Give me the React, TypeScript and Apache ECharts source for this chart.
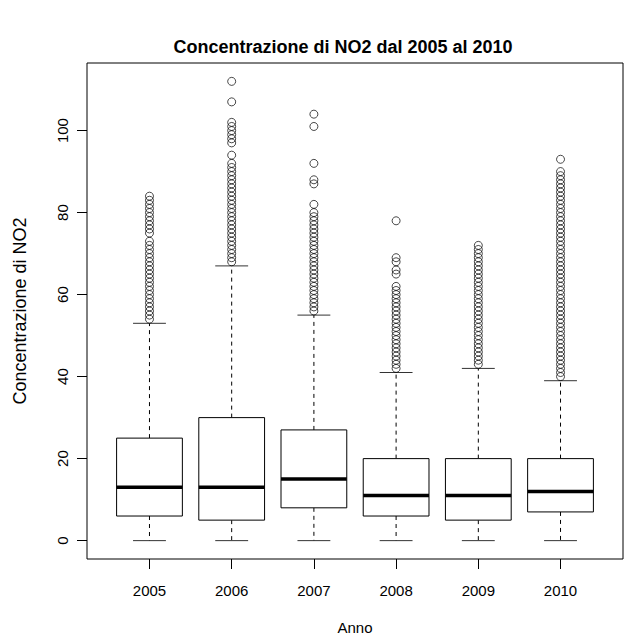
import React, { useEffect, useRef } from "react";
import * as echarts from "echarts";

const years = ["2005", "2006", "2007", "2008", "2009", "2010"];
const positions = [1, 2, 3, 4, 5, 6];
const mins = [0, 0, 0, 0, 0, 0];
const q1s = [6, 5, 8, 6, 5, 7];
const medians = [13, 13, 15, 11, 11, 12];
const q3s = [25, 30, 27, 20, 20, 20];
const maxs = [53, 67, 55, 41, 42, 39];

const outliers2005 = [54, 55, 56, 57, 58, 59, 60, 61, 62, 63, 64, 65, 66, 67, 68, 69, 70, 71, 72, 73, 75, 76, 77, 78, 79, 80, 81, 82, 83, 84];
const outliers2006 = [68, 69, 70, 71, 72, 73, 74, 75, 76, 77, 78, 79, 80, 81, 82, 83, 84, 85, 86, 87, 88, 89, 90, 91, 92, 94, 97, 98, 99, 100, 101, 102, 107, 112];
const outliers2007 = [56, 57, 58, 59, 60, 61, 62, 63, 64, 65, 66, 67, 68, 69, 70, 71, 72, 73, 74, 75, 76, 77, 78, 79, 80, 82, 87, 88, 92, 101, 104];
const outliers2008 = [42, 43, 44, 45, 46, 47, 48, 49, 50, 51, 52, 53, 54, 55, 56, 57, 58, 59, 60, 61, 62, 65, 66, 68, 69, 78];
const outliers2009 = [43, 44, 45, 46, 47, 48, 49, 50, 51, 52, 53, 54, 55, 56, 57, 58, 59, 60, 61, 62, 63, 64, 65, 66, 67, 68, 69, 70, 71, 72];
const outliers2010 = [40, 41, 42, 43, 44, 45, 46, 47, 48, 49, 50, 51, 52, 53, 54, 55, 56, 57, 58, 59, 60, 61, 62, 63, 64, 65, 66, 67, 68, 69, 70, 71, 72, 73, 74, 75, 76, 77, 78, 79, 80, 81, 82, 83, 84, 85, 86, 87, 88, 89, 90, 93];
const outlierLists = [outliers2005, outliers2006, outliers2007, outliers2008, outliers2009, outliers2010];

const yTicks = [0, 20, 40, 60, 80, 100];

const FONT = "'Liberation Sans', Arial, Helvetica, sans-serif";

export default function App() {
  const ref = useRef<HTMLDivElement>(null);
  useEffect(() => {
    if (!ref.current) return;
    const chart = echarts.init(ref.current, undefined, { renderer: "svg" });

    const boxData = positions.map((p, i) => [p, mins[i], q1s[i], medians[i], q3s[i], maxs[i]]);
    const outlierData: number[][] = [];
    outlierLists.forEach((list, i) => {
      list.forEach((v) => outlierData.push([positions[i], v]));
    });

    const option: any = {
      animation: false,
      backgroundColor: "#ffffff",
      textStyle: { fontFamily: FONT },
      grid: {
        left: 87,
        right: 7,
        top: 63,
        bottom: 76,
        containLabel: false,
        outerBoundsMode: "none",
        show: true,
        borderColor: "#000",
        borderWidth: 1,
        backgroundColor: "transparent",
      },
      graphic: [
        {
          type: "text",
          x: 343,
          y: 47,
          style: {
            text: "Concentrazione di NO2 dal 2005 al 2010",
            font: `bold 18px ${FONT}`,
            fill: "#000",
            textAlign: "center",
            textVerticalAlign: "middle",
          },
        },
      ],
      xAxis: {
        type: "value",
        position: "bottom",
        min: 0.24,
        max: 6.76,
        splitLine: { show: false },
        axisLine: { show: false, onZero: false },
        axisTick: {
          show: true,
          length: 10,
          customValues: positions,
          lineStyle: { color: "#000", width: 1 },
        },
        axisLabel: {
          customValues: positions,
          formatter: (v: number) => years[Math.round(v) - 1] ?? "",
          color: "#000",
          fontSize: 15,
          fontFamily: FONT,
          margin: 24,
        },
        name: "Anno",
        nameLocation: "middle",
        nameGap: 61,
        nameTextStyle: { color: "#000", fontSize: 15, fontFamily: FONT },
      },
      yAxis: {
        type: "value",
        position: "left",
        min: -4.48,
        max: 116.48,
        splitLine: { show: false },
        axisLine: { show: false, onZero: false },
        axisTick: {
          show: true,
          length: 10,
          customValues: yTicks,
          lineStyle: { color: "#000", width: 1 },
        },
        axisLabel: {
          customValues: yTicks,
          rotate: 90,
          color: "#000",
          fontSize: 15,
          fontFamily: FONT,
          margin: 17,
        },
        name: "Concentrazione di NO2",
        nameLocation: "middle",
        nameRotate: 90,
        nameGap: 58,
        nameTextStyle: { color: "#000", fontSize: 18, fontFamily: FONT },
      },
      series: [
        {
          type: "custom",
          data: boxData,
          encode: { x: 0, y: [1, 2, 3, 4, 5] },
          renderItem: (params: any, api: any) => {
            const x = api.value(0);
            const pMin = api.coord([x, api.value(1)]);
            const pQ1 = api.coord([x, api.value(2)]);
            const pMed = api.coord([x, api.value(3)]);
            const pQ3 = api.coord([x, api.value(4)]);
            const pMax = api.coord([x, api.value(5)]);
            const left = api.coord([x - 0.4, 0])[0];
            const right = api.coord([x + 0.4, 0])[0];
            const sLeft = api.coord([x - 0.2, 0])[0];
            const sRight = api.coord([x + 0.2, 0])[0];
            const cx = pMed[0];
            const dashStyle = { stroke: "#000", lineWidth: 1, lineDash: [4, 4], fill: null };
            const solid = { stroke: "#333", lineWidth: 1, fill: null };
            return {
              type: "group",
              children: [
                { type: "line", shape: { x1: cx, y1: pQ1[1], x2: cx, y2: pMin[1] }, style: dashStyle },
                { type: "line", shape: { x1: cx, y1: pQ3[1], x2: cx, y2: pMax[1] }, style: dashStyle },
                { type: "line", shape: { x1: sLeft, y1: pMin[1], x2: sRight, y2: pMin[1] }, style: solid },
                { type: "line", shape: { x1: sLeft, y1: pMax[1], x2: sRight, y2: pMax[1] }, style: solid },
                {
                  type: "rect",
                  shape: { x: left, y: pQ3[1], width: right - left, height: pQ1[1] - pQ3[1] },
                  style: { stroke: "#000", lineWidth: 1, fill: "#fff" },
                },
                { type: "line", shape: { x1: left, y1: pMed[1], x2: right, y2: pMed[1] }, style: { stroke: "#000", lineWidth: 3.5 } },
              ],
            };
          },
          z: 2,
        },
        {
          type: "scatter",
          data: outlierData,
          symbol: "circle",
          symbolSize: 8,
          itemStyle: { color: "transparent", borderColor: "#000", borderWidth: 0.9 },
          z: 3,
        },
      ],
    };
    chart.setOption(option);
    return () => chart.dispose();
  }, []);
  return <div ref={ref} style={{ width: 630, height: 635, position: "absolute", left: 0, top: 0 }} />;
}
